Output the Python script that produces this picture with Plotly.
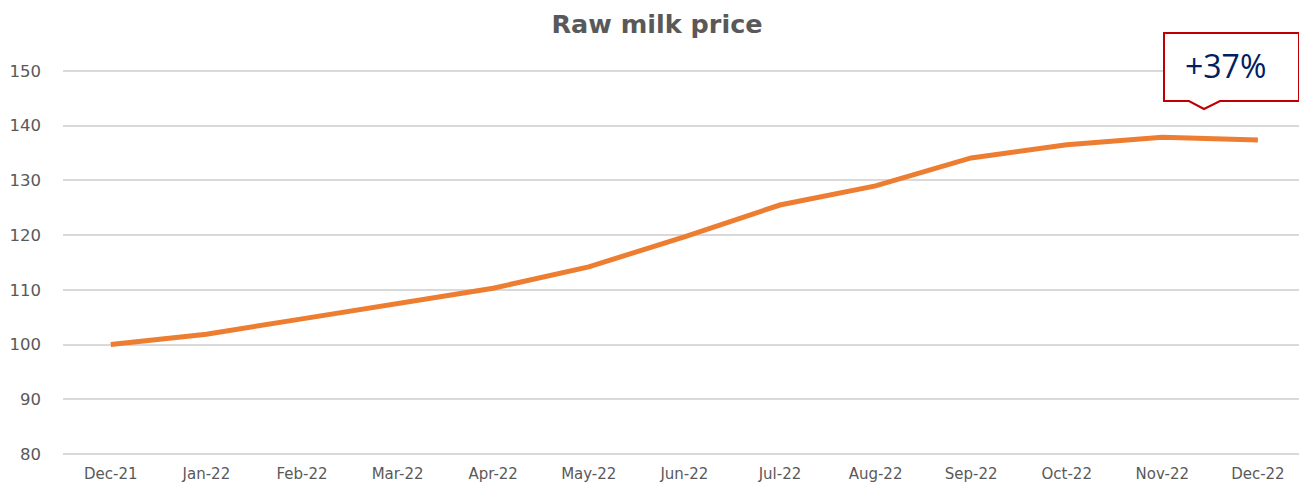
import plotly.graph_objects as go

months = ["Dec-21", "Jan-22", "Feb-22", "Mar-22", "Apr-22", "May-22", "Jun-22",
          "Jul-22", "Aug-22", "Sep-22", "Oct-22", "Nov-22", "Dec-22"]
price = [100.0, 101.9, 104.7, 107.6, 110.3, 114.2, 119.7, 125.5, 129.0, 134.1, 136.5, 137.9, 137.4]
y_ticks = [80, 90, 100, 110, 120, 130, 140, 150]
callout_text = "+37%"

# page has an 8px body margin; figure sized to fit inside the window
OFF = 8
W, H = 1291, 475
L, R, T, B = 55, 0, 61, 27
PW, PH = W - L - R, H - T - B

fig = go.Figure()
fig.add_trace(go.Scatter(x=months, y=price, mode="lines",
                         line=dict(color="#ED7D31", width=5), hoverinfo="x+y"))

def px(x):  # page pixel -> paper
    return (x - OFF - L) / PW

def py(y):
    return (H - B - (y - OFF)) / PH

pts = [(1164, 33), (1299, 33), (1299, 101), (1220, 101), (1204, 109), (1189, 101), (1164, 101)]
path = "M " + " L ".join(f"{px(a):.5f},{py(b):.5f}" for a, b in pts) + " Z"
fig.add_shape(type="path", xref="paper", yref="paper", path=path,
              line=dict(color="#C00000", width=2), fillcolor="white", layer="above")
fig.add_annotation(xref="paper", yref="paper", x=px(1225), y=py(66), text=callout_text,
                   showarrow=False, font=dict(family="Open Sans, Liberation Sans", size=32, color="#002060"),
                   xanchor="center", yanchor="middle")

fig.update_layout(
    width=W, height=H,
    margin=dict(l=L, r=R, t=T, b=B),
    paper_bgcolor="white", plot_bgcolor="white",
    showlegend=False,
    title=dict(text="<b>Raw milk price</b>", x=(657 - OFF) / W, xanchor="center",
               y=1 - (24 - OFF) / H, yanchor="middle",
               font=dict(family="DejaVu Sans, Verdana", size=25.5, color="#595959")),
    font=dict(family="DejaVu Sans, Verdana", color="#595959"),
    xaxis=dict(type="category", range=[-0.5, 12.43], showgrid=False, zeroline=False, showline=False,
               ticks="", tickfont=dict(size=15, color="#595959"), ticklabelstandoff=7,
               automargin=False),
    yaxis=dict(range=[79.65, 150.35], tickvals=y_ticks, showgrid=True, gridcolor="#D9D9D9", gridwidth=1.5,
               zeroline=False, showline=False, ticks="",
               tickfont=dict(size=16.5, color="#595959"), ticklabelstandoff=21, automargin=False),
)

fig.write_html("out.html")
